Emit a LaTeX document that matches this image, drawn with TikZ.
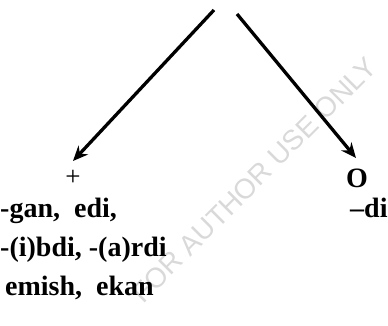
\documentclass[tikz,border=0pt]{standalone}
\usepackage{fontspec}
\setmainfont{Liberation Serif}
\newfontfamily\wmfont{Liberation Sans}
\usetikzlibrary{arrows.meta}
\begin{document}
\begin{tikzpicture}[x=1pt,y=-1pt,
  lbl/.style={font=\fontsize{28}{32}\selectfont\bfseries, inner sep=0pt, anchor=base west},
  sym/.style={font=\fontsize{27}{30}\selectfont, inner sep=0pt},
  arr/.style={line width=3.3pt, -{Stealth[length=15pt,width=13pt]}},
  wm/.style={font=\wmfont\fontsize{28}{32}\selectfont, text=gray!30, rotate=45, inner sep=0pt}]
\useasboundingbox (0,0) rectangle (388,326);
\node[wm] (wmark) at (254,180) {FOR AUTHOR USE ONLY};
\coordinate (s1) at (214,10);
\coordinate (s2) at (237,14);
\node[sym] (plus) at (73,178) {+};
\node[sym, font=\fontsize{28}{30}\selectfont\bfseries] (zero) at (357,178) {O};
\draw[arr] (s1) -- (73,161) coordinate (t1);
\draw[arr] (s2) -- (356,158) coordinate (t2);
\node[lbl] (l1) at (0,217) {-gan,\ \ edi,};
\node[lbl] (r1) at (350,217) {–di};
\node[lbl] (l2) at (0,256) {-(i)bdi, -(a)rdi};
\node[lbl] (l3) at (5,295) {emish,\ \ ekan};
\end{tikzpicture}
\end{document}
